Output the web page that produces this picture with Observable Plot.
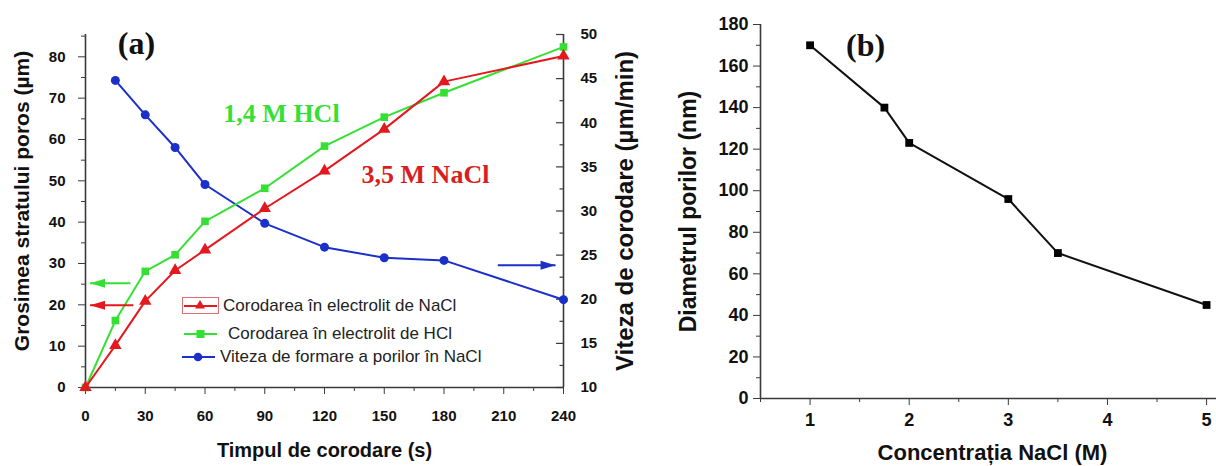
<!DOCTYPE html>
<html>
<head>
<meta charset="utf-8">
<script src="https://cdn.jsdelivr.net/npm/d3@7"></script>
<script src="https://cdn.jsdelivr.net/npm/@observablehq/plot@0.6"></script>
<style>
  body { margin: 0; background: #fff; }
  #wrap { position: relative; width: 1216px; height: 466px; overflow: hidden; font-family: "Liberation Sans", Arial, sans-serif; background:#fff; }
  #a, #b { position: absolute; top: 0; }
  #a { left: 0; }
  #b { left: 640px; }
  .lg { position: absolute; font-size: 17px; color: #222; white-space: nowrap; line-height: 20px; }
  .lg svg { position: absolute; }
</style>
</head>
<body>
<div id="wrap">
  <div id="a"></div>
  <div id="b"></div>
  <div id="legend"></div>
</div>
<script>
// ---------- Data: panel (a) ----------
const timeS = [0, 15, 30, 45, 60, 90, 120, 150, 180, 240];
const naclThickness = [0, 10.2, 20.9, 28.3, 33.3, 43.3, 52.4, 62.5, 74, 80.2];
const hclThickness = [0, 16.2, 28.1, 32.1, 40.2, 48.2, 58.4, 65.4, 71.3, 82.4];
const rateTime = [15, 30, 45, 60, 90, 120, 150, 180, 240];
const rateNaCl = [44.8, 40.9, 37.2, 33.0, 28.6, 25.9, 24.7, 24.4, 19.95];

const xTicksA = [0, 30, 60, 90, 120, 150, 180, 210, 240];
const xMinorA = [15, 45, 75, 105, 135, 165, 195, 225];
const yTicksA = [0, 10, 20, 30, 40, 50, 60, 70, 80];
const yMinorA = [5, 15, 25, 35, 45, 55, 65, 75, 85];
const rTicksA = [10, 15, 20, 25, 30, 35, 40, 45, 50];
const rMinorA = [12.5, 17.5, 22.5, 27.5, 32.5, 37.5, 42.5, 47.5];

const legendLabels = ["Corodarea în electrolit de NaCl", "Corodarea în electrolit de HCl", "Viteza de formare a porilor în NaCl"];

// ---------- Data: panel (b) ----------
const concM = [1, 1.75, 2, 3, 3.5, 5];
const poreDiam = [170, 140, 123, 96, 70, 45];
const xTicksB = [1, 2, 3, 4, 5];
const xMinorB = [0.5, 1.5, 2.5, 3.5, 4.5];
const yTicksB = [0, 20, 40, 60, 80, 100, 120, 140, 160, 180];
const yMinorB = [10, 30, 50, 70, 90, 110, 130, 150, 170];

// ---------- Style ----------
const RED = "#e3191f", GREEN = "#35e035", BLUE = "#1b2fc9", AX = "#3a3a3a", TXT = "#111";
const SANS = "Liberation Sans, Arial, sans-serif";
const SERIF = "Liberation Serif, Times New Roman, serif";

const yTop = 85.4;
const toLeft = v => (v - 10) / 40 * yTop;

const nacl = timeS.map((t, i) => ({t, v: naclThickness[i]}));
const hcl = timeS.map((t, i) => ({t, v: hclThickness[i]}));
const rate = rateTime.map((t, i) => ({t, v: toLeft(rateNaCl[i])}));

// annotation arrows (data units)
const arrowNotes = [
  {x1: 22.6, x2: 2.3, y: 25.2, color: GREEN},
  {x1: 24, x2: 2.3, y: 19.9, color: RED},
  {x1: 207, x2: 236, y: 29.6, color: BLUE}
];
const textNotes = [
  {x: 25.6, y: 83.1, text: "(a)", color: "#111"},
  {x: 98.4, y: 66.3, text: "1,4 M HCl", color: GREEN},
  {x: 170.7, y: 51.5, text: "3,5 M NaCl", color: "#d81e1e"}
];

const arrowHead = {
  draw(ctx) {
    ctx.moveTo(0, 0);
    ctx.lineTo(-15, -4.5);
    ctx.lineTo(-15, 4.5);
    ctx.closePath();
  }
};

const tickLenA = 3.5; // ~7px inward on the right axis

const plotA = Plot.plot({
  width: 640, height: 466,
  marginLeft: 85, marginRight: 77, marginTop: 34, marginBottom: 79,
  x: {domain: [0, 240]},
  y: {domain: [0, yTop]},
  style: {fontFamily: SANS, background: "transparent", overflow: "visible"},
  marks: [
    Plot.axisX({ticks: xTicksA, tickSize: 7, tickPadding: 16, fontSize: 15, fontWeight: "bold", label: null, stroke: AX, fill: TXT}),
    Plot.axisX({ticks: xMinorA, tickSize: 4, tickFormat: () => "", label: null, stroke: AX}),
    Plot.axisY({ticks: yTicksA, tickSize: 7, tickPadding: 13, fontSize: 15, fontWeight: "bold", label: null, stroke: AX, fill: TXT}),
    Plot.axisY({ticks: yMinorA, tickSize: 4, tickFormat: () => "", label: null, stroke: AX}),
    Plot.axisY({anchor: "right", ticks: rTicksA.map(toLeft), tickFormat: (d, i) => rTicksA[i], tickSize: 0, tickPadding: 17, fontSize: 15, fontWeight: "bold", label: null, fill: TXT}),
    Plot.ruleY(rTicksA, {y: toLeft, x1: 240 - tickLenA, x2: 240, stroke: AX, strokeWidth: 1.2}),
    Plot.ruleY(rMinorA, {y: toLeft, x1: 240 - tickLenA / 2, x2: 240, stroke: AX, strokeWidth: 1.2}),
    Plot.ruleX([0, 240], {stroke: AX, strokeWidth: 1.6}),
    Plot.ruleY([0], {stroke: AX, strokeWidth: 1.6}),
    Plot.line(rate, {x: "t", y: "v", stroke: BLUE, strokeWidth: 2}),
    Plot.dot(rate, {x: "t", y: "v", fill: BLUE, r: 4.5, symbol: "circle"}),
    Plot.line(hcl, {x: "t", y: "v", stroke: GREEN, strokeWidth: 2}),
    Plot.dot(hcl, {x: "t", y: "v", fill: GREEN, r: 4.3, symbol: "square"}),
    Plot.line(nacl, {x: "t", y: "v", stroke: RED, strokeWidth: 2}),
    Plot.dot(nacl, {x: "t", y: "v", fill: RED, r: 4.6, symbol: "triangle"}),
    Plot.link(arrowNotes, {x1: "x1", x2: "x2", y1: "y", y2: "y", stroke: "color", strokeWidth: 2}),
    Plot.dot(arrowNotes, {x: "x2", y: "y", fill: "color", symbol: arrowHead, rotate: d => d.x2 > d.x1 ? 0 : 180}),
    Plot.text(textNotes, {x: "x", y: "y", text: "text", fill: "color", fontFamily: SERIF, fontWeight: "bold", fontSize: d => d.text.startsWith("(") ? 32 : 26}),
    Plot.text(["Grosimea stratului poros (µm)"], {frameAnchor: "left", dx: -63, dy: -10, rotate: -90, textAnchor: "middle", lineAnchor: "middle", fontSize: 21, fontWeight: "bold", fill: TXT}),
    Plot.text(["Viteza de corodare (µm/min)"], {frameAnchor: "right", dx: 62, dy: 0, rotate: -90, textAnchor: "middle", lineAnchor: "middle", fontSize: 24, fontWeight: "bold", fill: TXT}),
    Plot.text(["Timpul de corodare (s)"], {frameAnchor: "bottom", dy: 63, textAnchor: "middle", lineAnchor: "middle", fontSize: 20, fontWeight: "bold", fill: TXT})
  ]
});
document.getElementById("a").append(plotA);

const pores = concM.map((c, i) => ({c, d: poreDiam[i]}));
const textNotesB = [{x: 1.56, y: 169.9, text: "(b)"}];

const plotB = Plot.plot({
  width: 576, height: 466,
  marginLeft: 120, marginRight: 0, marginTop: 24, marginBottom: 68,
  x: {domain: [0.5, 5.1]},
  y: {domain: [0, 180]},
  style: {fontFamily: SANS, background: "transparent", overflow: "visible"},
  marks: [
    Plot.axisX({ticks: xTicksB, tickFormat: d => String(d), tickSize: 7, tickPadding: 8, fontSize: 18, fontWeight: "bold", label: null, stroke: AX, fill: TXT}),
    Plot.axisX({ticks: xMinorB, tickSize: 4, tickFormat: () => "", label: null, stroke: AX}),
    Plot.axisY({ticks: yTicksB, tickSize: 7, tickPadding: 5, fontSize: 18, fontWeight: "bold", label: null, stroke: AX, fill: TXT}),
    Plot.axisY({ticks: yMinorB, tickSize: 4, tickFormat: () => "", label: null, stroke: AX}),
    Plot.ruleX([0.5], {stroke: AX, strokeWidth: 1.6}),
    Plot.ruleY([0], {stroke: AX, strokeWidth: 1.6}),
    Plot.line(pores, {x: "c", y: "d", stroke: "#111", strokeWidth: 2}),
    Plot.dot(pores, {x: "c", y: "d", fill: "#000", r: 4.4, symbol: "square"}),
    Plot.text(textNotesB, {x: "x", y: "y", text: "text", fill: "#111", fontFamily: SERIF, fontWeight: "bold", fontSize: 32}),
    Plot.text(["Diametrul porilor (nm)"], {frameAnchor: "left", dx: -72, dy: 0, rotate: -90, textAnchor: "middle", lineAnchor: "middle", fontSize: 23, fontWeight: "bold", fill: TXT}),
    Plot.text(["Concentrația NaCl (M)"], {frameAnchor: "bottom", dy: 54, dx: 4, textAnchor: "middle", lineAnchor: "middle", fontSize: 22, fontWeight: "bold", fill: TXT})
  ]
});
document.getElementById("b").append(plotB);

// ---------- Legend (HTML overlay) ----------
const legendColors = [RED, GREEN, BLUE];
const legendSymbols = ["triangle", "square", "circle"];
const legendRowsTop = [296, 324, 347];
const legendTextLeft = [223, 228, 220];
const legendSymLeft = [182, 182, 180];
const lg = document.getElementById("legend");
legendLabels.forEach((lab, i) => {
  const row = document.createElement("div");
  row.className = "lg";
  row.style.left = "0px";
  row.style.top = legendRowsTop[i] + "px";
  const c = legendColors[i];
  let sym;
  if (legendSymbols[i] === "triangle") sym = `<polygon points="18,4 23,12.5 13,12.5" fill="${c}"/>`;
  else if (legendSymbols[i] === "square") sym = `<rect x="14.5" y="6" width="8" height="8" fill="${c}"/>`;
  else sym = `<circle cx="18" cy="10" r="4.3" fill="${c}"/>`;
  const box = i === 0 ? `<rect x="0.5" y="1.5" width="36" height="16" fill="none" stroke="#e07070" stroke-width="1"/>` : "";
  row.innerHTML = `<svg width="38" height="20" style="left:${legendSymLeft[i]}px;top:0px">${box}<line x1="2" x2="35" y1="10" y2="10" stroke="${c}" stroke-width="2"/>${sym}</svg>` +
    `<span style="position:absolute;left:${legendTextLeft[i]}px;top:0px">${lab}</span>`;
  lg.append(row);
});
</script>
</body>
</html>
